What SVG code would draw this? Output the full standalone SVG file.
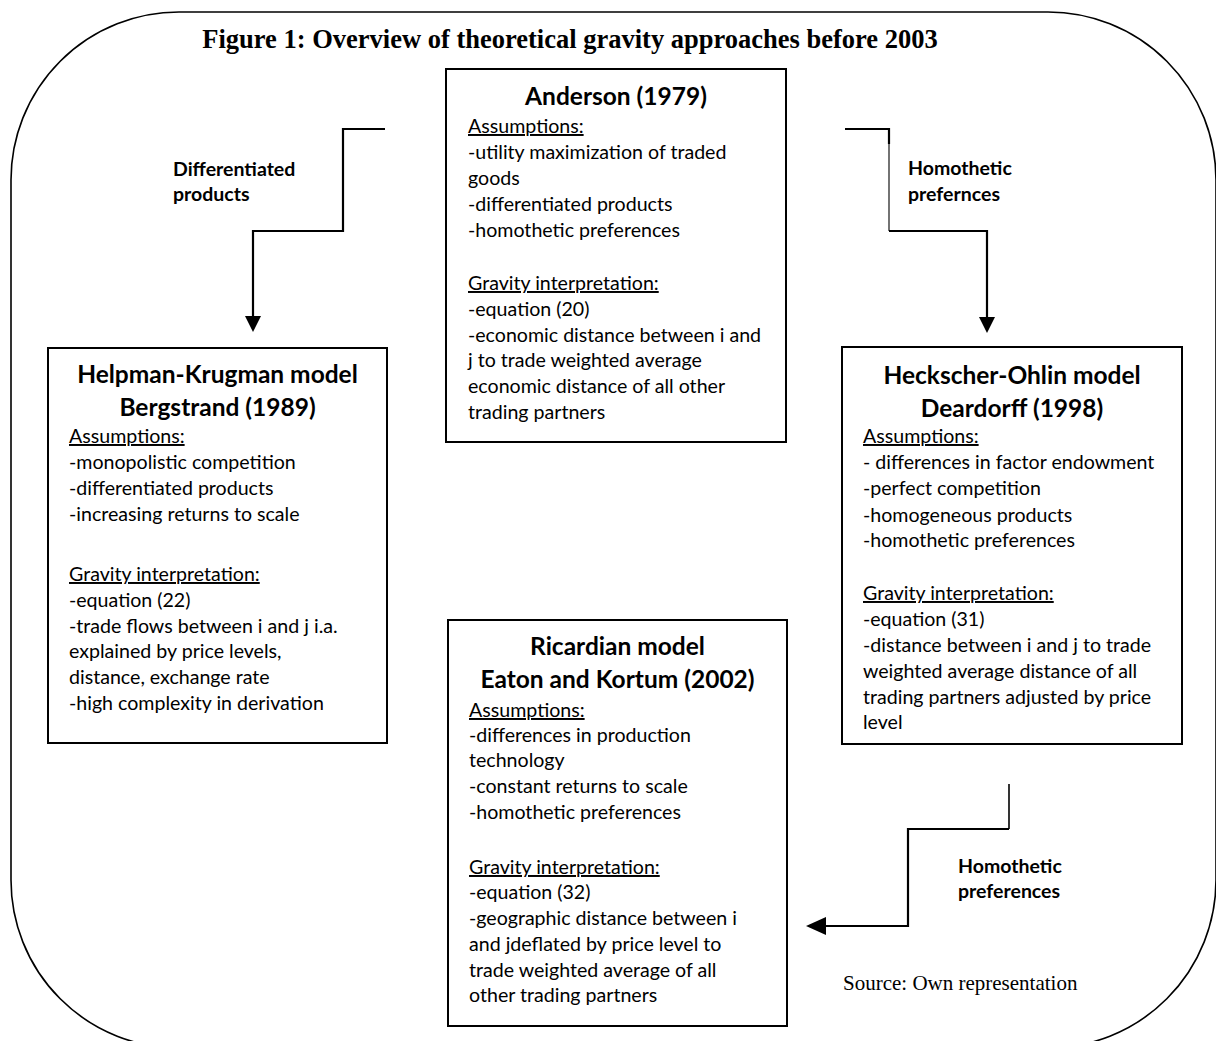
<svg xmlns="http://www.w3.org/2000/svg" width="1216" height="1041" viewBox="0 0 1216 1041">
<style>
.frame{fill:none;stroke:#000;stroke-width:1.6}
.box{fill:#fff;stroke:#000;stroke-width:2}
.ttl{font-family:Lato,"Liberation Sans",sans-serif;font-weight:bold;font-size:24.5px;fill:#000;text-anchor:middle}
.body{font-family:Lato,"Liberation Sans",sans-serif;font-size:19.6px;fill:#000}
.u{text-decoration:underline}
.lbl{font-family:Lato,"Liberation Sans",sans-serif;font-weight:bold;font-size:19.5px;fill:#000}
.fig{font-family:"Liberation Serif","Times New Roman",serif;font-weight:bold;font-size:26.5px;fill:#000;text-anchor:middle}
.src{font-family:"Liberation Serif","Times New Roman",serif;font-size:21px;fill:#000}
.con{fill:none;stroke:#000;stroke-width:2.2}
.thin{fill:none;stroke:#000;stroke-width:1.1}
</style>
<defs>
<marker id="arr" markerUnits="userSpaceOnUse" markerWidth="16" markerHeight="16" refX="13" refY="8" orient="auto">
<path d="M0,0 L16,8 L0,16 z" fill="#000"/>
</marker>
<marker id="arrL" markerUnits="userSpaceOnUse" markerWidth="20" markerHeight="18" refX="17" refY="9" orient="auto">
<path d="M0,0 L20,9 L0,18 z" fill="#000"/>
</marker>
</defs>
<rect class="frame" x="11" y="12" width="1205" height="1036" rx="168" ry="168"/>
<text class="fig" x="570" y="48">Figure 1: Overview of theoretical gravity approaches before 2003</text>
<g id="connectors">
<path class="con" d="M385,129 H343 V231 H253 V329" marker-end="url(#arr)"/>
<path class="con" d="M845,129 H889 V144"/>
<path class="thin" d="M889,129 V231"/>
<path class="con" d="M889,231 H987 V330" marker-end="url(#arr)"/>
<path class="thin" d="M1009,784 V829" style="stroke-width:1.6"/>
<path class="con" d="M1009,829 H908 V926 H809" marker-end="url(#arrL)"/>
<text class="lbl"><tspan x="173" y="176">Differentiated</tspan><tspan x="173" y="201">products</tspan></text>
<text class="lbl"><tspan x="908" y="175">Homothetic</tspan><tspan x="908" y="201">prefernces</tspan></text>
<text class="lbl"><tspan x="958" y="873">Homothetic</tspan><tspan x="958" y="898">preferences</tspan></text>
</g>
<g id="anderson">
<rect class="box" x="446" y="69" width="340" height="373"/>
<text class="ttl" x="616" y="105">Anderson (1979)</text>
<text class="body">
<tspan class="u" x="468" y="133">Assumptions:</tspan>
<tspan x="468" y="159">-utility maximization of traded</tspan>
<tspan x="468" y="185">goods</tspan>
<tspan x="468" y="211">-differentiated products</tspan>
<tspan x="468" y="237">-homothetic preferences</tspan>
<tspan class="u" x="468" y="290">Gravity interpretation:</tspan>
<tspan x="468" y="316">-equation (20)</tspan>
<tspan x="468" y="342">-economic distance between i and</tspan>
<tspan x="468" y="367">j to trade weighted average</tspan>
<tspan x="468" y="393">economic distance of all other</tspan>
<tspan x="468" y="419">trading partners</tspan>
</text>
</g>
<g id="helpman">
<rect class="box" x="48" y="348" width="339" height="395"/>
<text class="ttl"><tspan x="217.5" y="383">Helpman-Krugman model</tspan><tspan x="217.5" y="416">Bergstrand (1989)</tspan></text>
<text class="body">
<tspan class="u" x="69" y="443">Assumptions:</tspan>
<tspan x="69" y="469">-monopolistic competition</tspan>
<tspan x="69" y="495">-differentiated products</tspan>
<tspan x="69" y="521">-increasing returns to scale</tspan>
<tspan class="u" x="69" y="581">Gravity interpretation:</tspan>
<tspan x="69" y="607">-equation (22)</tspan>
<tspan x="69" y="633">-trade flows between i and j i.a.</tspan>
<tspan x="69" y="658">explained by price levels,</tspan>
<tspan x="69" y="684">distance, exchange rate</tspan>
<tspan x="69" y="710">-high complexity in derivation</tspan>
</text>
</g>
<g id="heckscher">
<rect class="box" x="842" y="347" width="340" height="397"/>
<text class="ttl"><tspan x="1012" y="384">Heckscher-Ohlin model</tspan><tspan x="1012" y="417">Deardorff (1998)</tspan></text>
<text class="body">
<tspan class="u" x="863" y="443">Assumptions:</tspan>
<tspan x="863" y="469">- differences in factor endowment</tspan>
<tspan x="863" y="495">-perfect competition</tspan>
<tspan x="863" y="522">-homogeneous products</tspan>
<tspan x="863" y="547">-homothetic preferences</tspan>
<tspan class="u" x="863" y="600">Gravity interpretation:</tspan>
<tspan x="863" y="626">-equation (31)</tspan>
<tspan x="863" y="652">-distance between i and j to trade</tspan>
<tspan x="863" y="678">weighted average distance of all</tspan>
<tspan x="863" y="704">trading partners adjusted by price</tspan>
<tspan x="863" y="729">level</tspan>
</text>
</g>
<g id="ricardian">
<rect class="box" x="448" y="620" width="339" height="406"/>
<text class="ttl"><tspan x="617.5" y="655">Ricardian model</tspan><tspan x="617.5" y="688">Eaton and Kortum (2002)</tspan></text>
<text class="body">
<tspan class="u" x="469" y="717">Assumptions:</tspan>
<tspan x="469" y="742">-differences in production</tspan>
<tspan x="469" y="767">technology</tspan>
<tspan x="469" y="793">-constant returns to scale</tspan>
<tspan x="469" y="819">-homothetic preferences</tspan>
<tspan class="u" x="469" y="874">Gravity interpretation:</tspan>
<tspan x="469" y="899">-equation (32)</tspan>
<tspan x="469" y="925">-geographic distance between i</tspan>
<tspan x="469" y="951">and jdeflated by price level to</tspan>
<tspan x="469" y="977">trade weighted average of all</tspan>
<tspan x="469" y="1002">other trading partners</tspan>
</text>
</g>
<text class="src" x="843" y="990">Source: Own representation</text>
</svg>
